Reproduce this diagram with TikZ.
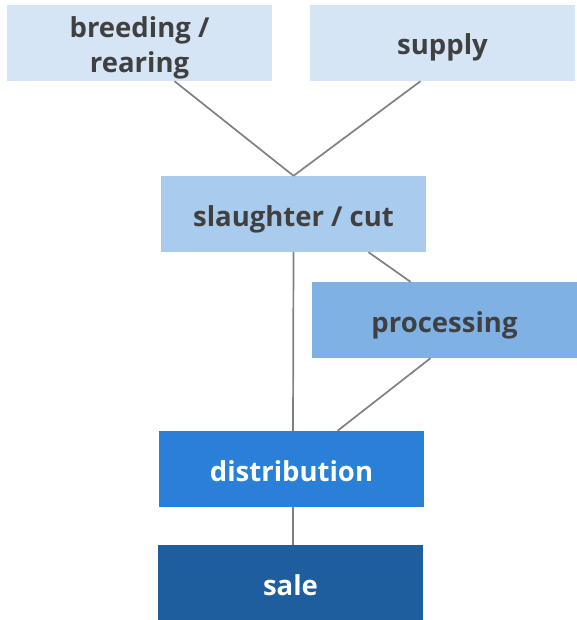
\documentclass[tikz,border=0pt]{standalone}
\usepackage{fontspec}
\setmainfont{Open Sans}
\usetikzlibrary{positioning,calc}

\definecolor{paleblue}{RGB}{213,229,246}
\definecolor{lightblue}{RGB}{169,203,238}
\definecolor{midblue}{RGB}{127,177,228}
\definecolor{brightblue}{RGB}{42,127,214}
\definecolor{deepblue}{RGB}{31,94,158}
\definecolor{txtgray}{RGB}{64,64,64}
\definecolor{linegray}{RGB}{128,128,128}

\begin{document}
\begin{tikzpicture}[x=1pt,y=-1pt,
  box/.style={minimum width=265pt,minimum height=76pt,inner sep=0pt,align=center,
    text height=26pt,text depth=2pt,
    font=\fontsize{27.5}{35}\selectfont\bfseries,text=txtgray},
  link/.style={draw=linegray,line width=1.7pt}]

  \useasboundingbox (0,0) rectangle (577,620);

  \node[box,fill=paleblue,text height=61pt] (bree) at (139.5,43) {breeding /\\rearing};
  \node[box,fill=paleblue] (supp) at (442.5,43) {supply};
  \node[box,fill=lightblue] (slau) at (293.5,214) {slaughter / cut};
  \node[box,fill=midblue] (proc) at (444.5,320) {processing};
  \node[box,fill=brightblue,text=white] (dist) at (291.5,469) {distribution};
  \node[box,fill=deepblue,text=white] (sale) at (290.5,583) {sale};

  \path[link] ([xshift=35pt]bree.south) -- (slau.north);
  \path[link] ([xshift=-22pt]supp.south) -- (slau.north);
  \path[link] (slau.south) -- ([xshift=1.5pt]dist.north);
  \path[link] ([xshift=75pt]slau.south) -- ([xshift=-34pt]proc.north);
  \path[link] ([xshift=-14pt]proc.south) -- ([xshift=46pt]dist.north);
  \path[link] ([xshift=1.5pt]dist.south) -- ([xshift=2.5pt]sale.north);

\end{tikzpicture}
\end{document}
